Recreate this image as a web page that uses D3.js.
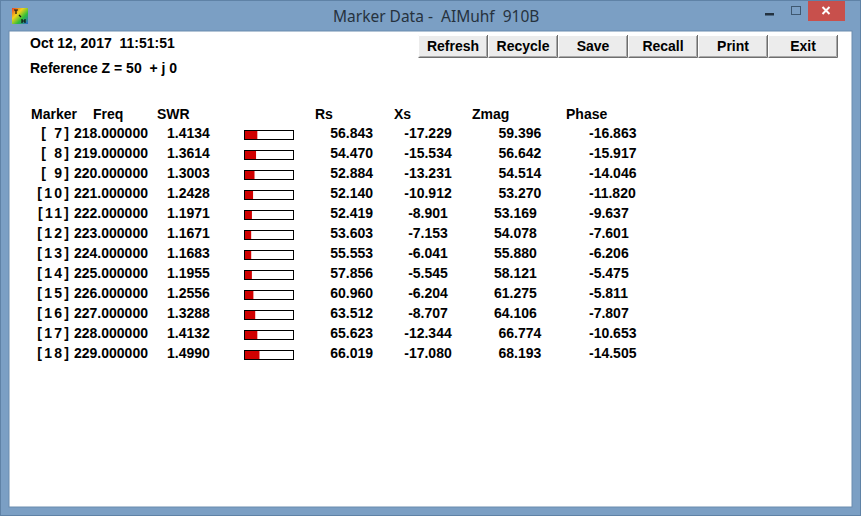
<!DOCTYPE html>
<html>
<head>
<meta charset="utf-8">
<script src="https://cdn.jsdelivr.net/npm/d3@7"></script>
<style>
  body { margin: 0; background: #fff; }
  svg text { white-space: pre; }
</style>
</head>
<body>
<div id="chart"></div>
<script>
// Marker table values
const markers = [7, 8, 9, 10, 11, 12, 13, 14, 15, 16, 17, 18];
const freqs = [218, 219, 220, 221, 222, 223, 224, 225, 226, 227, 228, 229];
const swr = [1.4134, 1.3614, 1.3003, 1.2428, 1.1971, 1.1671, 1.1683, 1.1955, 1.2556, 1.3288, 1.4132, 1.4990];
const rs = [56.843, 54.470, 52.884, 52.140, 52.419, 53.603, 55.553, 57.856, 60.960, 63.512, 65.623, 66.019];
const xs = [-17.229, -15.534, -13.231, -10.912, -8.901, -7.153, -6.041, -5.545, -6.204, -8.707, -12.344, -17.080];
const zmag = [59.396, 56.642, 54.514, 53.270, 53.169, 54.078, 55.880, 58.121, 61.275, 64.106, 66.774, 68.193];
const phase = [-16.863, -15.917, -14.046, -11.820, -9.637, -7.601, -6.206, -5.475, -5.811, -7.807, -10.653, -14.505];

const headers = ["Marker", "Freq", "SWR", "Rs", "Xs", "Zmag", "Phase"];
const buttons = ["Refresh", "Recycle", "Save", "Recall", "Print", "Exit"];
const titleText = "Marker Data -  AIMuhf  910B";
const dateText = "Oct 12, 2017  11:51:51";
const refText = "Reference Z = 50  + j 0";

const W = 861, H = 516;
const FONT = "'Liberation Sans', Arial, sans-serif";

const fmt = d3.formatLocale({decimal: ".", thousands: ",", grouping: [3], currency: ["", ""], minus: "-"});
const f6 = fmt.format(".6f"), f4 = fmt.format(".4f"), f3 = fmt.format(".3f");

const rows = markers.map((m, i) => ({
    marker: m < 10 ? "[ " + m + "]" : "[" + m + "]",
    freq: f6(freqs[i]),
    swr: swr[i],
    rs: f3(rs[i]),
    xs: f3(xs[i]),
    zmag: f3(zmag[i]),
    phase: f3(phase[i])
}));

const svg = d3.select("#chart").append("svg")
    .attr("width", W)
    .attr("height", H)
    .style("display", "block");

// window frame
svg.append("rect").attr("x", 0).attr("y", 0).attr("width", W).attr("height", H)
    .attr("fill", "#7b9fc4");
svg.append("rect").attr("x", 0.5).attr("y", 0.5).attr("width", W - 1).attr("height", H - 1)
    .attr("fill", "none").attr("stroke", "#5f82a6");
svg.append("rect").attr("x", 9).attr("y", 31).attr("width", 843).attr("height", 476)
    .attr("fill", "#ffffff").attr("stroke", "#6b8cae").attr("stroke-width", 1);

// title bar icon
const defs = svg.append("defs");
const grad = defs.append("linearGradient").attr("id", "ico")
    .attr("x1", 0).attr("y1", 0).attr("x2", 1).attr("y2", 1);
grad.append("stop").attr("offset", "0%").attr("stop-color", "#e83b2a");
grad.append("stop").attr("offset", "35%").attr("stop-color", "#f2d21b");
grad.append("stop").attr("offset", "65%").attr("stop-color", "#2fbf3a");
grad.append("stop").attr("offset", "100%").attr("stop-color", "#2a63d8");
svg.append("rect").attr("x", 12).attr("y", 8).attr("width", 16).attr("height", 16).attr("fill", "url(#ico)");
svg.append("path").attr("d", "M14 10 l4 0 M16 10 l0 4 M19 15 l2 2 M22 19 l0 4 M25 19 l0 4 M22 21 l3 0")
    .attr("stroke", "#111").attr("stroke-width", 1.2).attr("fill", "none");

svg.append("text")
    .attr("x", 333).attr("y", 22)
    .attr("font-family", "'Noto Sans', 'Open Sans', sans-serif")
    .attr("font-size", 15.5)
    .attr("fill", "#26323e")
    .text(titleText);

// caption buttons
svg.append("rect").attr("x", 765).attr("y", 13).attr("width", 9).attr("height", 2.5).attr("fill", "#233240");
svg.append("rect").attr("x", 791.5).attr("y", 6.5).attr("width", 9).attr("height", 8)
    .attr("fill", "none").attr("stroke", "#3f5870").attr("stroke-width", 1);
svg.append("rect").attr("x", 808).attr("y", 1).attr("width", 37).attr("height", 20).attr("fill", "#c8504c");
svg.append("path").attr("d", "M822.5 7 l7 7 M829.5 7 l-7 7")
    .attr("stroke", "#fff").attr("stroke-width", 2).attr("fill", "none");

// toolbar buttons
const bx = d3.scaleBand().domain(buttons).range([418, 838]);
const btn = svg.selectAll("g.btn").data(buttons).join("g")
    .attr("class", "btn")
    .attr("transform", d => `translate(${bx(d)},35)`);
btn.append("rect").attr("width", bx.bandwidth()).attr("height", 22).attr("fill", "#ececec");
btn.append("path").attr("d", `M0.5 21.5 L0.5 0.5 L${bx.bandwidth() - 0.5} 0.5`)
    .attr("stroke", "#ffffff").attr("fill", "none");
btn.append("path").attr("d", `M0.5 22.5 L${bx.bandwidth() - 0.5} 22.5 L${bx.bandwidth() - 0.5} 0`)
    .attr("stroke", "#6e6e6e").attr("fill", "none");
btn.append("path").attr("d", `M1.5 21.5 L${bx.bandwidth() - 1.5} 21.5 L${bx.bandwidth() - 1.5} 1`)
    .attr("stroke", "#a8a8a8").attr("fill", "none");
btn.append("text")
    .attr("x", bx.bandwidth() / 2).attr("y", 16)
    .attr("text-anchor", "middle")
    .attr("font-family", FONT).attr("font-weight", "bold").attr("font-size", 14)
    .attr("fill", "#000")
    .text(d => d);

// date and reference line
const body = svg.append("g")
    .attr("font-family", FONT).attr("font-weight", "bold").attr("font-size", 14).attr("fill", "#000");
body.append("text").attr("x", 30).attr("y", 48).text(dateText);
body.append("text").attr("x", 30).attr("y", 73).text(refText);

// column headers
const headerX = [31, 93, 157, 315, 394, 472, 566];
body.selectAll("text.hdr").data(headers).join("text")
    .attr("class", "hdr")
    .attr("x", (d, i) => headerX[i]).attr("y", 119)
    .text(d => d);

// rows
const y = d3.scaleBand().domain(d3.range(rows.length)).range([121, 361]);
const swrBar = d3.scaleLinear().domain([0.92, 3]).range([0, 52]).clamp(true);

const row = body.selectAll("g.row").data(rows).join("g")
    .attr("class", "row")
    .attr("transform", (d, i) => `translate(0,${y(i) + 17})`);

row.append("text").attr("x", 71).attr("text-anchor", "end")
    .attr("letter-spacing", 2.2)
    .text(d => d.marker);
row.append("text").attr("x", 74).text(d => d.freq);
row.append("text").attr("x", 167).text(d => f4(d.swr));
row.append("text").attr("x", 373).attr("text-anchor", "end").text(d => d.rs);
row.append("text").attr("x", 428).attr("text-anchor", "middle").text(d => d.xs);
row.append("text").attr("x", d => 494 + (d.xs.length - 6) * 4.5).text(d => d.zmag);
row.append("text").attr("x", 589).text(d => d.phase);

// SWR bar
row.append("rect")
    .attr("x", 244.5).attr("y", -7.5)
    .attr("width", 49).attr("height", 9)
    .attr("fill", "#fff").attr("stroke", "#000").attr("stroke-width", 1);
row.append("rect")
    .attr("x", 245).attr("y", -7)
    .attr("width", d => swrBar(d.swr))
    .attr("height", 8)
    .attr("fill", "#d00000");
</script>
</body>
</html>
